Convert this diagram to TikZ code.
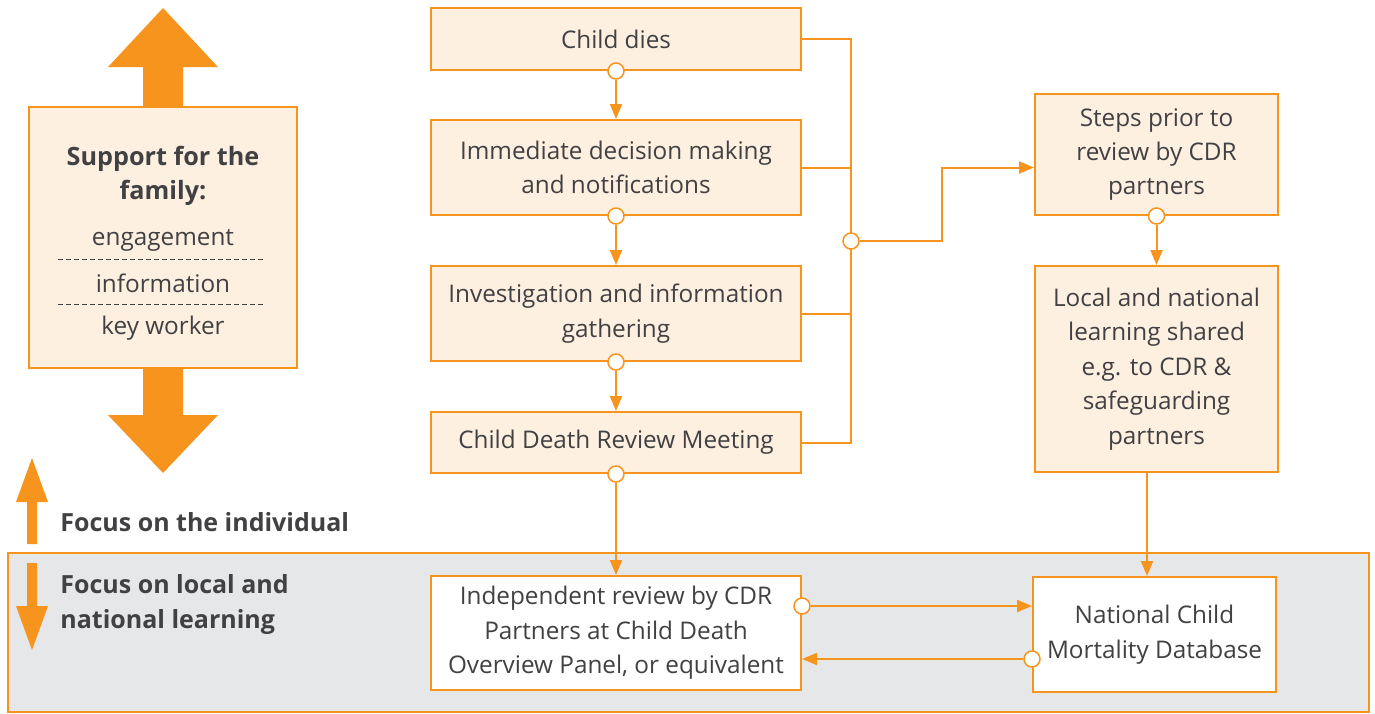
\documentclass[tikz,border=0pt]{standalone}
\usepackage{fontspec}
\setmainfont{Open Sans}
\usetikzlibrary{positioning,arrows.meta,calc}

\definecolor{cdrorange}{HTML}{F7941D}
\definecolor{cdrfill}{HTML}{FEF0E0}
\definecolor{cdrgrey}{HTML}{E6E7E9}
\definecolor{cdrtext}{HTML}{414042}

\begin{document}
\begin{tikzpicture}[
  x=0.5pt, y=-0.5pt,
  font=\fontsize{12.15}{17.2}\selectfont, text=cdrtext,
  stage/.style={draw=cdrorange, line width=1pt, fill=cdrfill, align=center,
                inner sep=0pt, minimum width=185pt},
  side/.style ={stage, minimum width=121.5pt},
  knot/.style ={circle, draw=cdrorange, fill=white, line width=0.75pt,
                minimum size=8pt, inner sep=0pt},
  link/.style ={draw=cdrorange, line width=1pt},
  arr/.style  ={link, -{Triangle[length=7.5pt,width=6pt]}},
  bigarrow/.style={fill=cdrorange},
  famhead/.style={font=\fontsize{12.6}{17}\selectfont\bfseries, align=center},
  focus/.style={font=\fontsize{12.5}{17.5}\selectfont\bfseries, align=left,
                anchor=west, inner sep=0pt},
  sep/.style  ={draw=cdrtext, line width=0.4pt, dash pattern=on 2.5pt off 1.5pt},
]
\useasboundingbox (0,0) rectangle (1375,713);

% learning panel
\node[draw=cdrorange, fill=cdrgrey, line width=0.75pt, minimum width=680.5pt,
      minimum height=79.5pt, inner sep=0pt] (panel) at (688.5,632.5) {};

% support for the family
\fill[bigarrow] (143,120) -- (143,67) -- (108,67) -- (163,8) -- (218,67)
  -- (183,67) -- (183,120) -- cycle;
\fill[bigarrow] (143,350) -- (143,415) -- (108,415) -- (163,473) -- (218,415)
  -- (183,415) -- (183,350) -- cycle;
\node[stage, minimum width=134pt, minimum height=130.5pt] (family) at (163,237.5) {};
\node[famhead] (famtitle) at (163,176) {Support for the\\family:};
\node (engage) at (163,240) {engagement};
\node (inform) at (163,283) {information};
\node (keywork) at (163,328) {key worker};
\draw[sep] (58,259) -- (265,259);
\draw[sep] (58,304) -- (265,304);

% focus arrows
\fill[bigarrow] (27,544) -- (27,502) -- (16,502) -- (32,458) -- (48,502)
  -- (37,502) -- (37,544) -- cycle;
\fill[bigarrow] (27,563) -- (27,606) -- (16,606) -- (32,650) -- (48,606)
  -- (37,606) -- (37,563) -- cycle;
\node[focus] (indiv) at (60,522) {Focus on the individual};
\node[focus] (local) at (60,604.5) {Focus on local and\\national learning};

% main stages
\node[stage, minimum height=31pt] (dies) at (616,39) {Child dies};
\node[stage, minimum height=47.5pt] (decide) at (616,167.5)
  {Immediate decision making\\and notifications};
\node[stage, minimum height=47.5pt] (invest) at (616,313.5)
  {Investigation and information\\gathering};
\node[stage, minimum height=30.5pt] (meet) at (616,442.5) {Child Death Review Meeting};
\node[stage, fill=white, minimum height=57pt] (indep) at (616,633)
  {Independent review by CDR\\Partners at Child Death\\Overview Panel, or equivalent};

\node[side, minimum height=60.5pt] (prior) at (1156.5,154.5)
  {Steps prior to\\review by CDR\\partners};
\node[side, minimum height=103pt] (learn) at (1156.5,369)
  {Local and national\\learning shared\\e.g. to CDR \&\\safeguarding\\partners};
\node[side, fill=white, minimum height=57.5pt] (ncmd) at (1154.5,634.5)
  {National Child\\Mortality Database};

% bracket to the right
\coordinate (hubpt) at (851,241);
\coordinate (elbow) at (942,241);
\draw[link] (dies.east) -- (dies.east -| hubpt) -- (meet.east -| hubpt) -- (meet.east);
\draw[link] (decide.east) -- (decide.east -| hubpt);
\draw[link] (invest.east) -- (invest.east -| hubpt);
\node[knot] (hub) at (hubpt) {};
\draw[arr] (hub) -- (elbow) |- (prior.west |- decide.east);

% downward links
\node[knot] (k1) at (dies.south) {};
\node[knot] (k2) at (decide.south) {};
\node[knot] (k3) at (invest.south) {};
\node[knot] (k4) at (meet.south) {};
\node[knot] (k5) at (prior.south) {};
\draw[arr] (k1) -- (decide.north);
\draw[arr] (k2) -- (invest.north);
\draw[arr] (k3) -- (meet.north);
\draw[arr] (k4) -- (indep.north);
\draw[arr] (k5) -- (learn.north);
\draw[arr] ([xshift=-4.75pt]learn.south) -- ([xshift=-4.75pt]learn.south |- ncmd.north);

% review <-> database
\node[knot] (k6) at ([yshift=13.5pt]indep.east) {};
\node[knot] (k7) at ([yshift=-12.25pt]ncmd.west) {};
\draw[arr] (k6) -- (k6 -| ncmd.west);
\draw[arr] (k7) -- (k7 -| indep.east);

\end{tikzpicture}
\end{document}
